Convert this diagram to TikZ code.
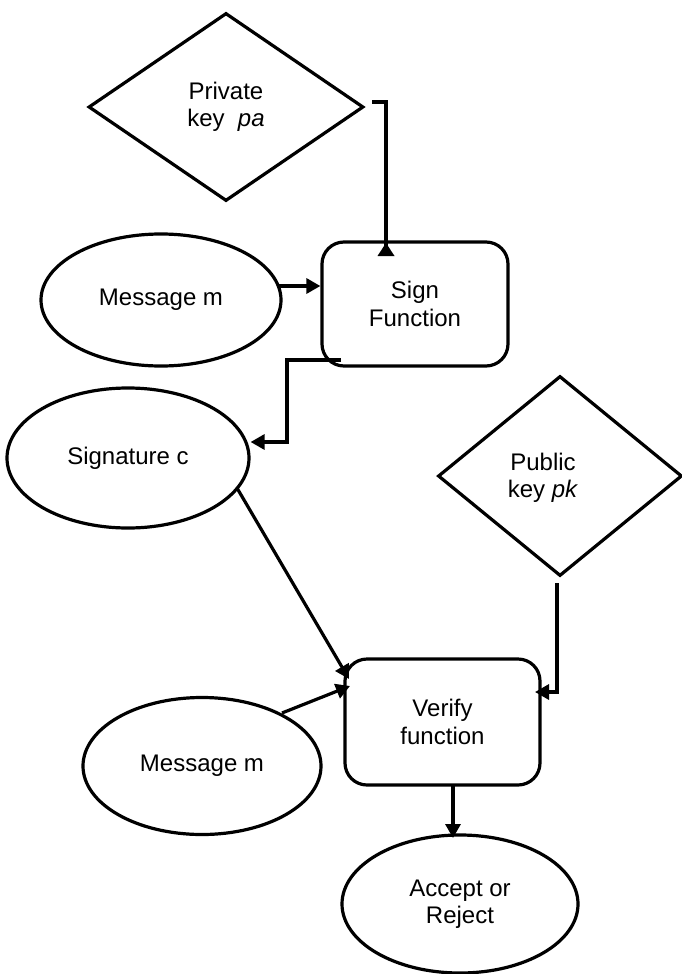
\documentclass[tikz,border=0pt]{standalone}
\usepackage{fontspec}
\setmainfont{Liberation Sans}
\usetikzlibrary{shapes.geometric,arrows.meta}
\begin{document}
\begin{tikzpicture}[x=1pt,y=-1pt,line width=3.2pt,
  lbl/.style={font=\fontsize{24}{27.5}\selectfont,align=center},
  dia/.style={draw,shape=diamond,inner sep=0pt},
  fbox/.style={draw,rectangle,rounded corners=22pt,inner sep=0pt},
  ell/.style={draw,ellipse,inner sep=0pt},
  arr/.style={-{Triangle[length=14pt,width=15pt]},line join=miter}]
\useasboundingbox (0,0) rectangle (681,974);

% shapes
\node[dia,lbl,minimum width=275pt,minimum height=188pt,aspect=1.46] (pk) at (226,107) {Private\\key\ \ \textit{pa}};
\node[fbox,lbl,minimum width=186pt,minimum height=124pt] (sign) at (415,304) {Sign\\Function};
\node[ell,lbl,minimum width=240pt,minimum height=132pt] (msg1) at (161,300) {Message m};
\node[ell,lbl,minimum width=242pt,minimum height=140pt] (sig) at (128,458) {Signature c};
\node[dia,minimum width=244pt,minimum height=200pt,aspect=1.22] (pub) at (560,476) {};
\node[lbl] (pubtxt) at (543,478) {Public\\key \textit{pk}};
\node[fbox,lbl,minimum width=195pt,minimum height=126pt] (ver) at (442.5,722) {Verify\\function};
\node[ell,lbl,minimum width=238pt,minimum height=137pt] (msg2) at (202,766) {Message m};
\node[ell,lbl,minimum width=236pt,minimum height=138pt] (acc) at (460,904) {Accept or\\Reject};

% connector coordinates
\coordinate (pkout) at (372,102);
\coordinate (signtop) at (386,256);
\coordinate (signtip) at (386,243);
\coordinate (m1out) at (278,286);
\coordinate (sgout) at (341,360);
\coordinate (sgbend) at (287,360);
\coordinate (sigin) at (287,442);
\coordinate (sigout) at (237,488);
\coordinate (verin1) at (349,679);
\coordinate (m2out) at (282,713);
\coordinate (verin2) at (350,686);
\coordinate (pubout) at (557,583);
\coordinate (pubbend) at (557,692);
\coordinate (verin3) at (535,692);
\coordinate (verout) at (453,785);
\coordinate (accin) at (453,838);

% connectors
\draw[line join=miter] (pkout) -| (signtop);
\fill (signtip) -- ++(-8.5,13) -- ++(17,0) -- cycle;
\draw[arr] (m1out) -- (sign.west |- m1out);
\draw[arr] (sgout) -- (sgbend) -- (sigin) -- (sig.east |- sigin);
\draw[arr] (sigout) -- (verin1);
\draw[arr] (m2out) -- (verin2);
\draw[arr] (pubout) -- (pubbend) -- (verin3);
\draw[arr] (verout) -- (accin);
\end{tikzpicture}
\end{document}
